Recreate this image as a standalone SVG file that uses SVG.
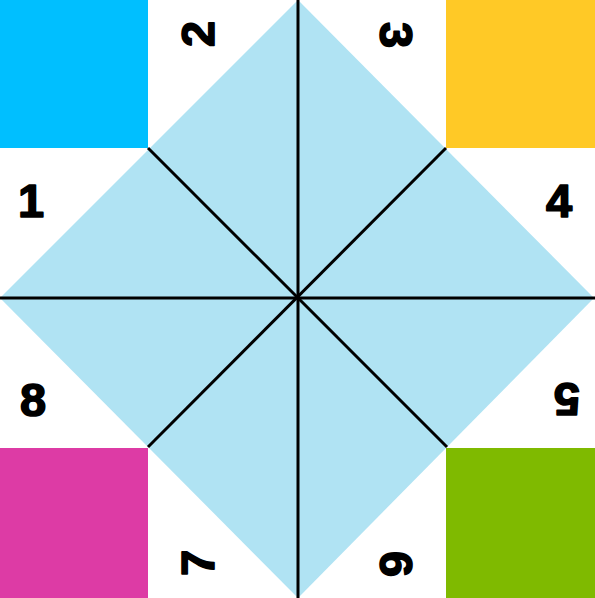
<svg xmlns="http://www.w3.org/2000/svg" width="595" height="598" viewBox="0 0 595 598">
<style>
.num{font-family:"Liberation Sans",Arial,sans-serif;font-weight:bold;font-size:47px;fill:#000;stroke:#000;stroke-width:1.6;stroke-linejoin:round;text-anchor:middle}
.ln{stroke:#000;stroke-width:3;fill:none}
</style>
<rect width="595" height="598" fill="#fff"/>
<g id="corners">
<rect id="tl" x="0" y="0" width="148" height="148" fill="#00BFFF"/>
<rect id="tr" x="446" y="0" width="149" height="148" fill="#FFC926"/>
<rect id="bl" x="0" y="448" width="148" height="150" fill="#DD3BA5"/>
<rect id="br" x="446" y="448" width="149" height="150" fill="#7FBA00"/>
</g>
<g id="diamond">
<polygon points="298,0 594,298 298,598 0,298" fill="#B0E3F3"/>
</g>
<g id="connectors">
<line class="ln" x1="298" y1="0" x2="298" y2="598"/>
<line class="ln" x1="0" y1="298" x2="595" y2="298"/>
<line class="ln" x1="148" y1="148" x2="447" y2="447"/>
<line class="ln" x1="446" y1="148" x2="148" y2="447"/>
</g>
<g id="n1"><text class="num" x="31" y="217">1</text></g>
<g id="n2"><text class="num" x="197" y="51" transform="rotate(-90 197 34)">2</text></g>
<g id="n3"><text class="num" x="397" y="52" transform="rotate(90 397 35)">3</text></g>
<g id="n4"><text class="num" x="559" y="217">4</text></g>
<g id="n5"><text class="num" x="567" y="417" transform="rotate(180 567 400)">5</text></g>
<g id="n6"><text class="num" x="397" y="581" transform="rotate(90 397 564)">6</text></g>
<g id="n7"><text class="num" x="197" y="580" transform="rotate(-90 197 563)">7</text></g>
<g id="n8"><text class="num" x="33" y="416">8</text></g>
</svg>
